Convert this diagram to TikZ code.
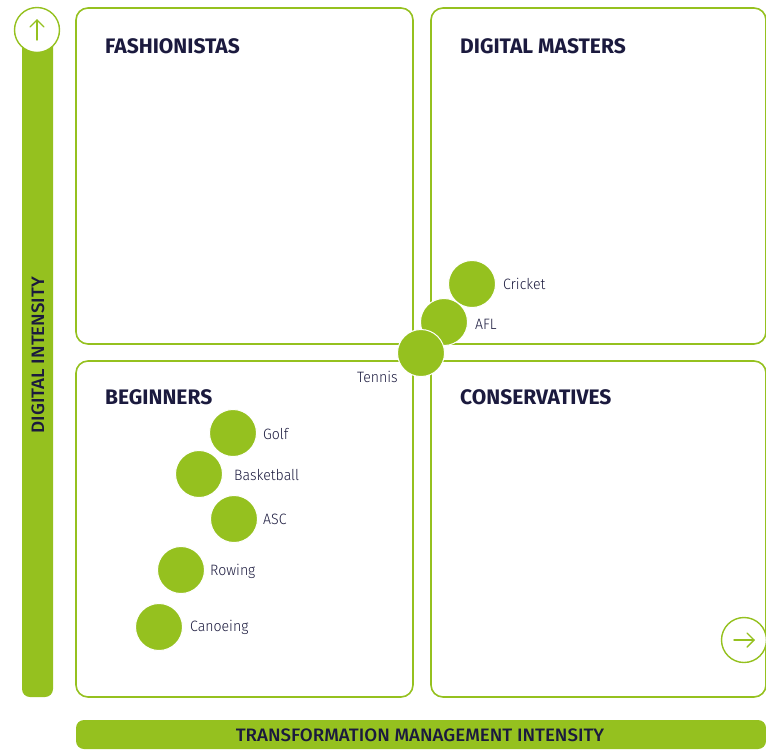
\documentclass[tikz,border=0pt]{standalone}
\usepackage{fontspec}
\setmainfont{Fira Sans}
\newfontfamily\lightfont[FakeStretch=0.94]{Fira Sans Light}
\newfontfamily\medfont[FakeStretch=1.04]{Fira Sans Medium}
\definecolor{qgreen}{HTML}{95C11F}
\definecolor{qnavy}{HTML}{1B1A3E}
\begin{document}
\begin{tikzpicture}[x=1pt,y=-1pt,
  quad/.style={draw=qgreen,line width=1.6pt,rounded corners=12pt,fill=white},
  title/.style={anchor=base west,text=qnavy,font=\fontsize{21}{24}\selectfont\bfseries,inner sep=0pt},
  dot/.style={circle,fill=qgreen,draw=white,line width=1pt,minimum size=47pt,inner sep=0pt},
  lab/.style={anchor=west,text=qnavy,font=\lightfont\fontsize{15}{18}\selectfont,inner sep=0pt},
  ring/.style={circle,draw=qgreen,line width=1.4pt,fill=white,minimum size=45pt,inner sep=0pt},
  arr/.style={draw=qgreen,line width=1.4pt,line cap=round,line join=round},
  axlab/.style={text=qnavy,font=\medfont\fontsize{18}{21}\selectfont,inner sep=0pt}]
\useasboundingbox (0,0) rectangle (766,753);
% vertical axis bar
\fill[qgreen,rounded corners=8pt] (22,30) rectangle (53,697);
\node[rotate=90,axlab] (ylab) at (38,355) {DIGITAL INTENSITY};
\node[ring] (up) at (37,30) {};
\draw[arr] (37,40) -- (37,20);
\draw[arr] (30,27) -- (37,20) -- (44,27);
% horizontal axis bar
\fill[qgreen,rounded corners=8pt] (76,720) rectangle (766,749);
\node[axlab] (xlab) at (420,735) {TRANSFORMATION MANAGEMENT INTENSITY};
% quadrants
\draw[quad] (76,8) rectangle (413,344);
\draw[quad] (431,8) rectangle (766,344);
\draw[quad] (76,361) rectangle (413,697);
\draw[quad] (431,361) rectangle (766,697);
\node[title] (t1) at (105,53) {FASHIONISTAS};
\node[title] (t2) at (460,53) {DIGITAL MASTERS};
\node[title] (t3) at (105,404) {BEGINNERS};
\node[title] (t4) at (460,404) {CONSERVATIVES};
% right arrow ring
\node[ring] (right) at (744,640) {};
\draw[arr] (734,640) -- (754,640);
\draw[arr] (747,633) -- (754,640) -- (747,647);
% dots
\node[dot] (cricket) at (472,284) {};
\node[dot] (afl) at (444,322) {};
\node[dot] (tennis) at (421,353) {};
\node[dot] (golf) at (233,433) {};
\node[dot] (basket) at (199,474) {};
\node[dot] (asc) at (234,519) {};
\node[dot] (rowing) at (181,570) {};
\node[dot] (canoe) at (159,627) {};
\node[lab] (lcricket) at (503,284) {Cricket};
\node[lab] (lafl) at (475,324) {AFL};
\node[lab] (ltennis) at (357,377) {Tennis};
\node[lab] (lgolf) at (263,434) {Golf};
\node[lab] (lbasket) at (234,475) {Basketball};
\node[lab] (lasc) at (263,519) {ASC};
\node[lab] (lrowing) at (210,571) {Rowing};
\node[lab] (lcanoe) at (190,627) {Canoeing};
\end{tikzpicture}
\end{document}
